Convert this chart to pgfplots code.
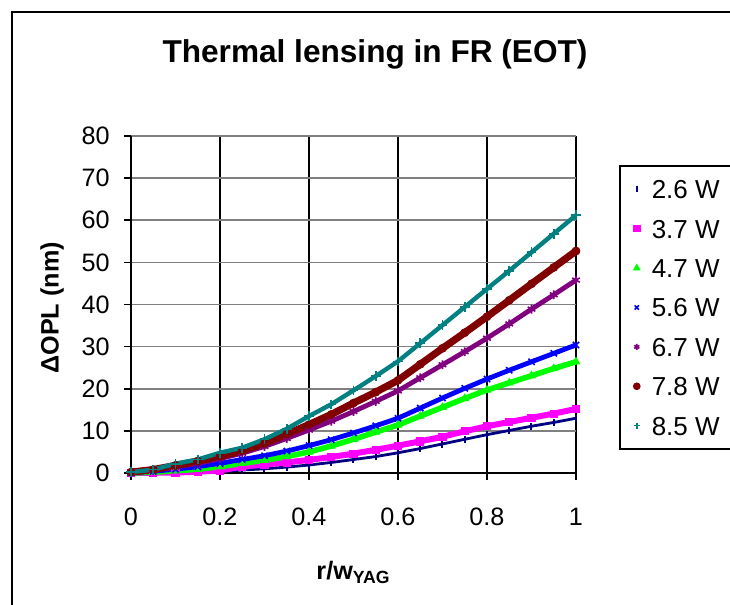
\documentclass[border=0pt]{standalone}
\usepackage{pgfplots}
\pgfplotsset{compat=1.18}
\usepackage{pgfplotstable}
\usepackage{fontspec}
\setmainfont{Liberation Sans}

\definecolor{c26}{RGB}{0,0,128}
\definecolor{c37}{RGB}{255,0,255}
\definecolor{c47}{RGB}{0,255,0}
\definecolor{c56}{RGB}{0,0,255}
\definecolor{c67}{RGB}{128,0,128}
\definecolor{c78}{RGB}{128,0,0}
\definecolor{c85}{RGB}{0,128,128}

\pgfplotstableread{
x    s26  s37  s47  s56  s67  s78  s85
0    0    0    0    0.1  0.1  0.2  0.2
0.05 0    0.05 0.2  0.4  0.6  0.8  0.8
0.1  0.05 0.1  0.5  0.9  1.4  1.8  2.2
0.15 0.15 0.3  0.9  1.5  2.3  2.8  3.2
0.2  0.3  0.6  1.5  2.3  3.4  4.0  4.8
0.25 0.7  1.5  2.3  3.2  4.7  5.3  6.0
0.3  1.0  2.0  3.0  4.1  6.3  7.0  8.0
0.35 1.4  2.5  3.9  5.2  8.2  9.2  10.5
0.4  1.9  3.1  5.0  6.5  10.2 11.5 13.5
0.45 2.5  3.8  6.4  7.9  12.3 13.9 16.3
0.5  3.2  4.6  8.0  9.5  14.6 16.6 19.6
0.55 3.9  5.5  9.7  11.2 17.0 19.2 23.0
0.6  4.8  6.5  11.4 13.0 19.5 22.0 26.5
0.65 5.8  7.5  13.5 15.4 22.6 25.8 30.8
0.7  6.9  8.6  15.6 17.8 25.7 29.6 35.1
0.75 8.0  9.9  17.7 20.1 28.8 33.3 39.4
0.8  9.1  11.1 19.7 22.3 32.0 37.1 43.7
0.85 10.1 12.1 21.4 24.4 35.4 41.0 48.0
0.9  11.1 13.1 23.1 26.4 38.9 44.9 52.4
0.95 12.0 14.1 24.8 28.4 42.3 48.8 56.8
1    13.0 15.2 26.4 30.4 45.8 52.7 61.2
}\data

\begin{document}
\begin{tikzpicture}
\useasboundingbox (-65.5pt,-66pt) rectangle (299.5pt,236.5pt);
% chart area frame, cut by the picture edge
\draw[line width=1pt] (-59.5pt,-70pt) -- (-59.5pt,230.5pt) -- (310pt,230.5pt);

\begin{axis}[
  scale only axis,
  width=222.5pt, height=168.5pt,
  at={(0,0)}, anchor=south west,
  xmin=0, xmax=1, ymin=0, ymax=80,
  xtick={0,0.2,0.4,0.6,0.8,1},
  ytick={0,10,...,80},
  axis lines*=left,
  axis line style={line width=0.8pt},
  tick align=outside,
  major tick length=3.5pt,
  tick style={line width=0.8pt, black},
  xmajorgrids, ymajorgrids,
  x grid style={line width=0.8pt, black},
  y grid style={line width=0.8pt, black!50},
  clip=false,
  /pgf/number format/assume math mode=true,
  tick label style={font=\fontsize{12.6}{15}\selectfont},
  yticklabel style={inner sep=0pt, xshift=-7pt},
  xticklabel style={inner sep=0pt, yshift=-14pt},
  xlabel={\bfseries r/w\textsubscript{YAG}},
  ylabel={\bfseries ΔOPL (nm)},
  label style={font=\fontsize{12.6}{15}\selectfont},
  xlabel style={at={(0.5,0)}, anchor=center, yshift=-49.5pt},
  ylabel style={at={(-0.1775,0.49)}, anchor=center},
  legend style={at={(1.0966,0.914)}, anchor=north west,
    draw=black, line width=0.8pt,
    inner xsep=7pt, inner ysep=7pt, row sep=10.2pt,
    font=\fontsize{13}{15}\selectfont,
    nodes={inner sep=0pt, text height=9.5pt, text depth=0pt},
    /tikz/every odd column/.append style={column sep=6pt}},
  legend cell align=left,
  legend image code/.code={\draw[#1,mark size=1.5pt] plot coordinates {(0pt,0pt)};},
]
\addplot[c26, line width=1.4pt, forget plot] table[x=x,y=s26]{\data};
\addplot[c26, only marks, mark=|, mark size=1.8pt, line width=1pt] table[x=x,y=s26]{\data};
\addlegendentry{2.6 W}

\addplot[c37, line width=3pt, forget plot] table[x=x,y=s37]{\data};
\addplot[c37, only marks, mark=square*, mark size=1.8pt] table[x=x,y=s37]{\data};
\addlegendentry{3.7 W}

\addplot[c47, line width=2.8pt, forget plot] table[x=x,y=s47]{\data};
\addplot[c47, only marks, mark=triangle*, mark size=2.2pt] table[x=x,y=s47]{\data};
\addlegendentry{4.7 W}

\addplot[c56, line width=2.4pt, forget plot] table[x=x,y=s56]{\data};
\addplot[c56, only marks, mark=x, mark size=2.2pt, line width=0.8pt] table[x=x,y=s56]{\data};
\addlegendentry{5.6 W}

\addplot[c67, line width=2.4pt, forget plot] table[x=x,y=s67]{\data};
\addplot[c67, only marks, mark=asterisk, mark size=2.2pt, line width=0.8pt] table[x=x,y=s67]{\data};
\addlegendentry{6.7 W}

\addplot[c78, line width=3.6pt, forget plot] table[x=x,y=s78]{\data};
\addplot[c78, only marks, mark=*, mark size=2pt] table[x=x,y=s78]{\data};
\addlegendentry{7.8 W}

\addplot[c85, line width=2.2pt, forget plot] table[x=x,y=s85]{\data};
\addplot[c85, only marks, mark=+, mark size=2.4pt, line width=0.8pt] table[x=x,y=s85]{\data};
\addlegendentry{8.5 W}
\end{axis}

\node[font=\fontsize{15.8}{19}\selectfont\bfseries, anchor=center] at (122pt,209.5pt) {Thermal lensing in FR (EOT)};
\end{tikzpicture}
\end{document}
